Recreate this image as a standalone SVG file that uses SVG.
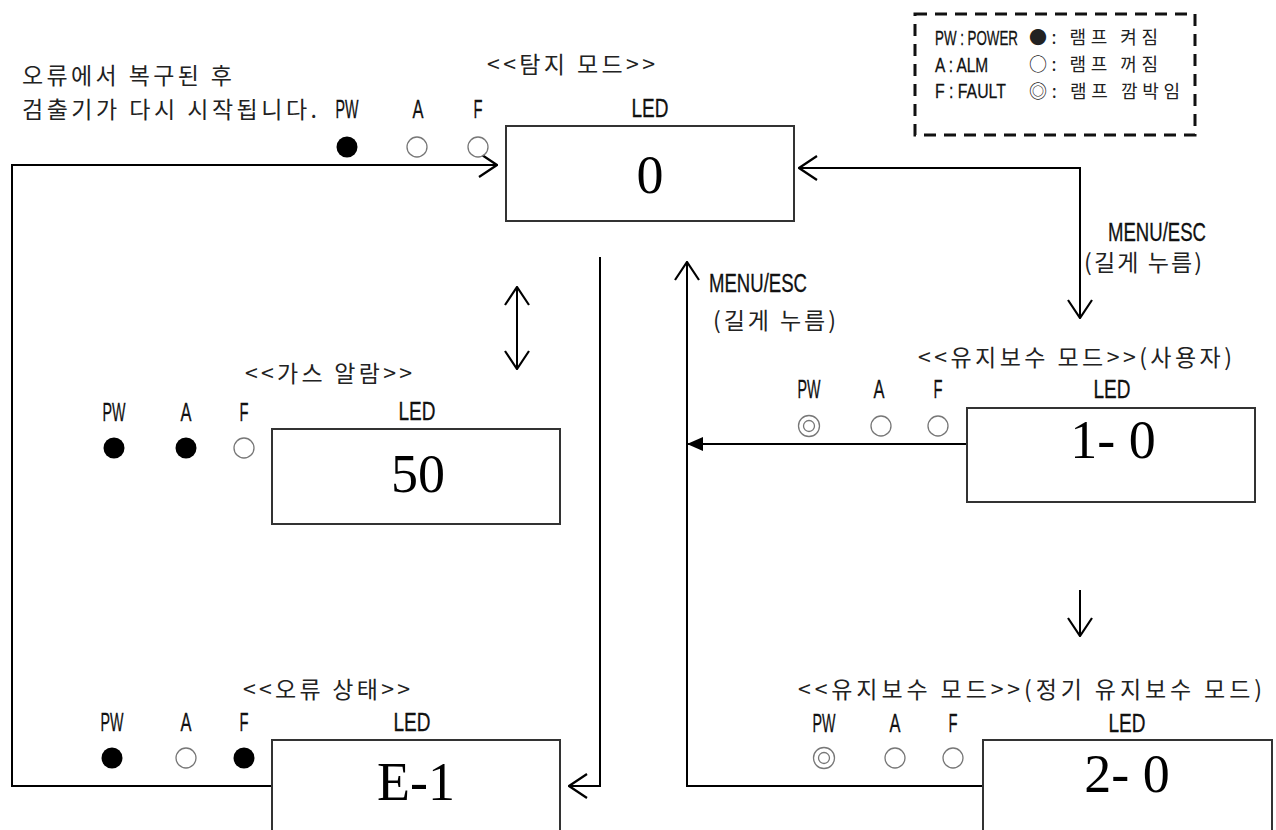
<svg xmlns="http://www.w3.org/2000/svg" width="1276" height="830" viewBox="0 0 1276 830">
<style>
.k{font-family:"Noto Sans CJK KR","Noto Sans",sans-serif;font-size:23px;fill:#222}
.kl{font-family:"Noto Sans CJK KR","Noto Sans",sans-serif;font-size:18px;fill:#222}
.c{font-family:"Liberation Sans","DejaVu Sans",sans-serif;font-size:25px;fill:#111;stroke:#111;stroke-width:0.3}
.cl{font-family:"Liberation Sans","DejaVu Sans",sans-serif;font-size:21px;fill:#111;stroke:#111;stroke-width:0.3}
.n{font-family:"Liberation Serif","DejaVu Serif",serif;font-size:54px;fill:#000;text-anchor:middle}
.box{fill:#fff;stroke:#333;stroke-width:2}
.on{fill:#000}
.off{fill:#fff;stroke:#777;stroke-width:1.3}
.ln{fill:none;stroke:#000;stroke-width:2}
</style>
<defs>
<marker id="open" markerUnits="userSpaceOnUse" viewBox="0 0 20 26" refX="19" refY="13" markerWidth="20" markerHeight="26" orient="auto-start-reverse">
<path d="M1 1 L19 13 L1 25" fill="none" stroke="#000" stroke-width="2.2"/>
</marker>
<marker id="solid" markerUnits="userSpaceOnUse" viewBox="0 0 16 14" refX="15" refY="7" markerWidth="16" markerHeight="14" orient="auto">
<path d="M0 0 L16 7 L0 14 z" fill="#000"/>
</marker>
</defs>
<rect width="1276" height="830" fill="#fff"/>

<g id="connectors">
<path class="ln" d="M272 786 H12 V165 H497" marker-end="url(#open)"/>
<path class="ln" d="M799 168 H1080 V318" marker-start="url(#open)" marker-end="url(#open)"/>
<path class="ln" d="M967 444 H688" marker-end="url(#solid)"/>
<path class="ln" d="M983 786 H687 V262" marker-end="url(#open)"/>
<path class="ln" d="M600 257 V786 H569" marker-end="url(#open)"/>
<path class="ln" d="M517 287 V369" marker-start="url(#open)" marker-end="url(#open)"/>
<path class="ln" d="M1080 590 V636" marker-end="url(#open)"/>
</g>

<g id="legend">
<rect x="915" y="14" width="280" height="121" fill="none" stroke="#111" stroke-width="3" stroke-dasharray="12 8"/>
<text class="cl" transform="translate(935 45) scale(0.635 1)">PW : POWER</text>
<text class="cl" transform="translate(935 72) scale(0.736 1)">A : ALM</text>
<text class="cl" transform="translate(935 98) scale(0.753 1)">F : FAULT</text>
<text class="kl" x="1029" y="44" textLength="129" lengthAdjust="spacing">●: 램프 켜짐</text>
<text class="kl" x="1029" y="71" textLength="129" lengthAdjust="spacing">○: 램프 꺼짐</text>
<text class="kl" x="1029" y="98" textLength="151" lengthAdjust="spacing">◎: 램프 깜박임</text>
</g>

<g id="note">
<text class="k" x="22" y="84" textLength="210" lengthAdjust="spacing">오류에서 복구된 후</text>
<text class="k" x="22" y="118" textLength="295" lengthAdjust="spacing">검출기가 다시 시작됩니다.</text>
</g>

<g id="detect-mode">
<text class="k" x="487" y="73" textLength="168" lengthAdjust="spacing">&lt;&lt;탐지 모드&gt;&gt;</text>
<text class="c" x="335.5" y="118" textLength="23" lengthAdjust="spacingAndGlyphs">PW</text>
<text class="c" x="412.5" y="118" textLength="11" lengthAdjust="spacingAndGlyphs">A</text>
<text class="c" x="473.5" y="118" textLength="9" lengthAdjust="spacingAndGlyphs">F</text>
<text class="c" x="631.5" y="117" textLength="37" lengthAdjust="spacingAndGlyphs">LED</text>
<circle class="on" cx="347" cy="147" r="10.5"/>
<circle class="off" cx="417" cy="147" r="10"/>
<circle class="off" cx="478" cy="147" r="10"/>
<rect class="box" x="506" y="126" width="288" height="95"/>
<text class="n" x="650" y="193">0</text>
</g>

<g id="gas-alarm">
<text class="k" x="245" y="382" textLength="167" lengthAdjust="spacing">&lt;&lt;가스 알람&gt;&gt;</text>
<text class="c" x="102.5" y="421" textLength="23" lengthAdjust="spacingAndGlyphs">PW</text>
<text class="c" x="180.5" y="421" textLength="11" lengthAdjust="spacingAndGlyphs">A</text>
<text class="c" x="239.5" y="421" textLength="9" lengthAdjust="spacingAndGlyphs">F</text>
<text class="c" x="398.5" y="420" textLength="37" lengthAdjust="spacingAndGlyphs">LED</text>
<circle class="on" cx="114" cy="448" r="10.5"/>
<circle class="on" cx="186" cy="448" r="10.5"/>
<circle class="off" cx="244" cy="448" r="10"/>
<rect class="box" x="272" y="429" width="288" height="95"/>
<text class="n" x="418" y="492">50</text>
</g>

<g id="error-state">
<text class="k" x="243" y="698" textLength="167" lengthAdjust="spacing">&lt;&lt;오류 상태&gt;&gt;</text>
<text class="c" x="100.5" y="731" textLength="23" lengthAdjust="spacingAndGlyphs">PW</text>
<text class="c" x="180.5" y="731" textLength="11" lengthAdjust="spacingAndGlyphs">A</text>
<text class="c" x="239.5" y="731" textLength="9" lengthAdjust="spacingAndGlyphs">F</text>
<text class="c" x="393.5" y="731" textLength="37" lengthAdjust="spacingAndGlyphs">LED</text>
<circle class="on" cx="112" cy="758" r="10.5"/>
<circle class="off" cx="186" cy="758" r="10"/>
<circle class="on" cx="244" cy="758" r="10.5"/>
<rect class="box" x="272" y="740" width="288" height="100"/>
<text class="n" x="416" y="800">E-1</text>
</g>

<g id="maint-user">
<text class="k" x="918" y="366" textLength="314" lengthAdjust="spacing">&lt;&lt;유지보수 모드&gt;&gt;(사용자)</text>
<text class="c" x="797.5" y="398" textLength="23" lengthAdjust="spacingAndGlyphs">PW</text>
<text class="c" x="873.5" y="398" textLength="11" lengthAdjust="spacingAndGlyphs">A</text>
<text class="c" x="933.5" y="398" textLength="9" lengthAdjust="spacingAndGlyphs">F</text>
<text class="c" x="1093.5" y="398" textLength="37" lengthAdjust="spacingAndGlyphs">LED</text>
<circle class="off" cx="809" cy="426" r="10.5"/>
<circle class="off" cx="809" cy="426" r="5.5"/>
<circle class="off" cx="881" cy="426" r="10"/>
<circle class="off" cx="938" cy="426" r="10"/>
<rect class="box" x="967" y="408" width="288" height="94"/>
<text class="n" x="1113" y="458">1- 0</text>
</g>

<g id="maint-periodic">
<text class="k" x="798" y="698" textLength="464" lengthAdjust="spacing">&lt;&lt;유지보수 모드&gt;&gt;(정기 유지보수 모드)</text>
<text class="c" x="812.5" y="732" textLength="23" lengthAdjust="spacingAndGlyphs">PW</text>
<text class="c" x="889.5" y="732" textLength="11" lengthAdjust="spacingAndGlyphs">A</text>
<text class="c" x="948.5" y="732" textLength="9" lengthAdjust="spacingAndGlyphs">F</text>
<text class="c" x="1108.5" y="732" textLength="37" lengthAdjust="spacingAndGlyphs">LED</text>
<circle class="off" cx="824" cy="758" r="10.5"/>
<circle class="off" cx="824" cy="758" r="5.5"/>
<circle class="off" cx="895" cy="758" r="10"/>
<circle class="off" cx="953" cy="758" r="10"/>
<rect class="box" x="983" y="740" width="289" height="100"/>
<text class="n" x="1127" y="792">2- 0</text>
</g>

<g id="labels">
<text class="c" x="1108" y="241" textLength="98" lengthAdjust="spacingAndGlyphs">MENU/ESC</text>
<text class="k" x="1084" y="271" textLength="118" lengthAdjust="spacing">(길게 누름)</text>
<text class="c" x="709" y="292" textLength="98" lengthAdjust="spacingAndGlyphs">MENU/ESC</text>
<text class="k" x="713" y="329" textLength="123" lengthAdjust="spacing">(길게 누름)</text>
</g>
</svg>
